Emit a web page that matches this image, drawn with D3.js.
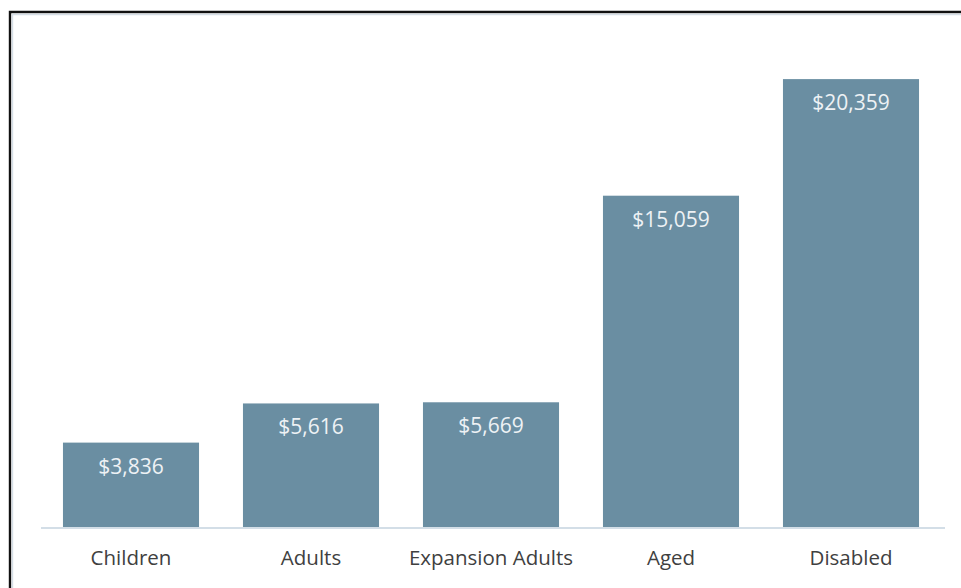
<!DOCTYPE html>
<html>
<head>
<meta charset="utf-8">
<script src="https://cdn.jsdelivr.net/npm/d3@7"></script>
<style>
  html, body { margin: 0; padding: 0; background: #fff; }
  svg { display: block; }
</style>
</head>
<body>
<svg id="chart" width="961" height="588"></svg>
<script>
// 各类人群的人均支出
const categories = ["Children", "Adults", "Expansion Adults", "Aged", "Disabled"];
const values = [3836, 5616, 5669, 15059, 20359];

const W = 961, H = 588;
const svg = d3.select("#chart");

// 外框：黑色粗线 + 内侧浅色线（只有上、左两边可见）
svg.append("path").attr("d", `M10,${H} V12 H${W}`)
  .attr("fill", "none").attr("stroke", "#111").attr("stroke-width", 2.4);
svg.append("path").attr("d", `M12.5,${H} V14.5 H${W}`)
  .attr("fill", "none").attr("stroke", "#d5dee6").attr("stroke-width", 1.4);

const x = d3.scaleBand().domain(categories).range([41, 941]).paddingInner(0.244).paddingOuter(0.122);
const y = d3.scaleLinear().domain([0, 22000]).range([527, 43]);

const bars = svg.append("g").selectAll("g").data(values).join("g");
bars.append("rect")
  .attr("x", (d, i) => x(categories[i]))
  .attr("y", (d) => y(d))
  .attr("width", x.bandwidth())
  .attr("height", (d) => y(0) - y(d))
  .attr("fill", "#6a8ea2");
bars.append("text")
  .attr("x", (d, i) => x(categories[i]) + x.bandwidth() / 2)
  .attr("y", (d) => y(d) + 31)
  .attr("text-anchor", "middle")
  .attr("font-family", "'Open Sans', sans-serif")
  .attr("font-size", 21)
  .attr("fill", "#eef2f5")
  .text((d) => "$" + d3.format(",")(d));

// 底部坐标轴
const ax = svg.append("g").attr("transform", `translate(0,${y(0)})`)
  .call(d3.axisBottom(x).tickSize(0).tickPadding(23));
ax.select(".domain").attr("stroke", "#d3dee7").attr("stroke-width", 2).attr("d", "M41,1H945");
ax.selectAll("text")
  .attr("font-family", "'Open Sans', sans-serif")
  .attr("font-size", 20.5)
  .attr("fill", "#404040");
</script>
</body>
</html>
